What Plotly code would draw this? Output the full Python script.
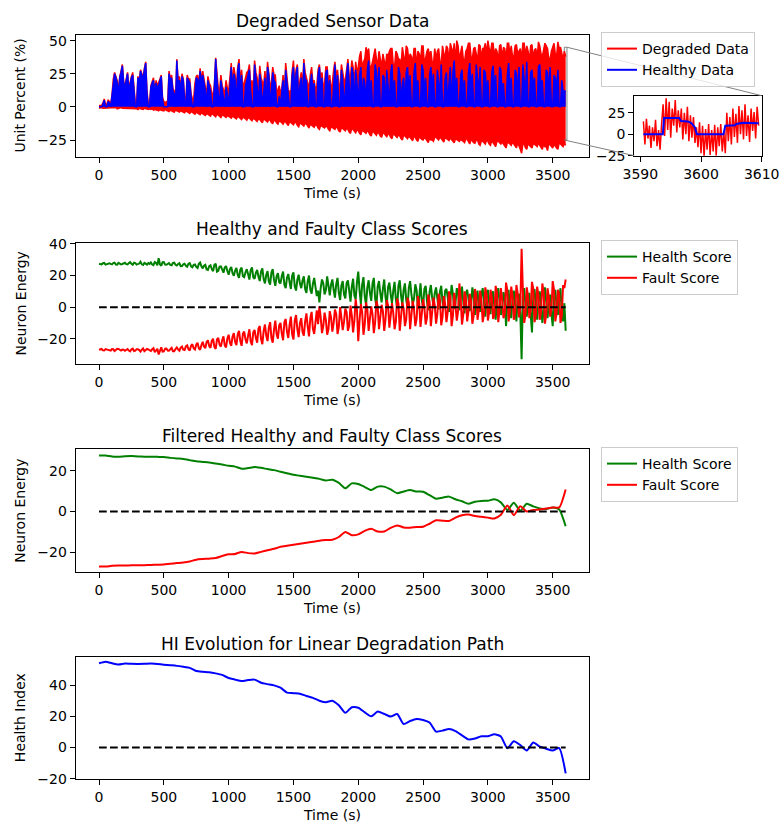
import plotly.graph_objects as go

# ---------------- data ----------------
T20 = list(range(0, 3601, 20))          # sample times (s): 0, 20, ..., 3600
T20B = list(range(10, 3600, 20))        # sample times (s): 10, 30, ..., 3590
T50 = list(range(0, 3601, 50))          # sample times (s) for filtered series

# Chart 1: degraded data (band: lower / upper envelope) and healthy data
DEG_HI = [
    1, 1, 6, 2, 4, 9, 26, 20, 23, 32,
    16, 26, 20, 26, 3, 23, 28, 22, 34, 3,
    16, 22, 20, 18, 24, 4, 4, 27, 24, 12,
    36, 23, 25, 7, 24, 21, 6, 18, 24, 29,
    27, 14, 23, 16, 9, 37, 14, 24, 12, 20,
    12, 33, 30, 14, 36, 28, 18, 26, 32, 20,
    35, 22, 31, 18, 27, 34, 16, 30, 24, 14,
    10, 24, 33, 12, 10, 35, 28, 10, 26, 36,
    22, 14, 30, 20, 16, 32, 26, 18, 30, 24,
    18, 34, 28, 16, 26, 20, 36, 22, 30, 34,
    30, 42, 34, 45, 44, 30, 40, 36, 42, 30,
    36, 40, 42, 44, 30, 40, 36, 45, 32, 44,
    40, 32, 44, 42, 34, 46, 38, 44, 42, 32,
    36, 44, 32, 40, 46, 34, 44, 48, 50, 36,
    46, 34, 44, 48, 36, 45, 34, 46, 44, 48,
    50, 40, 48, 44, 34, 47, 45, 36, 48, 46,
    38, 47, 42, 36, 48, 46, 34, 47, 43, 36,
    46, 38, 48, 44, 36, 46, 40, 49, 45, 36,
    38,
]
DEG_HI_B = [
    1, 3, 2, 5, 2, 21, 23, 12, 27, 19,
    21, 14, 23, 10, 2, 19, 25, 29, 12, 2,
    19, 12, 16, 21, 7, 3, 4, 21, 14, 4,
    20, 14, 21, 5, 21, 10, 6, 23, 17, 20,
    20, 9, 18, 10, 17, 22, 12, 16, 10, 14,
    22, 16, 24, 30, 18, 14, 20, 27, 16, 12,
    26, 12, 22, 16, 12, 27, 18, 24, 10, 16,
    14, 10, 22, 12, 27, 16, 32, 20, 14, 26,
    16, 24, 18, 12, 28, 20, 14, 30, 18, 12,
    28, 22, 16, 32, 20, 28, 24, 35, 18, 26,
    38, 28, 36, 40, 30, 34, 44, 32, 36, 40,
    30, 38, 44, 32, 42, 36, 30, 40, 46, 34,
    38, 44, 30, 40, 46, 32, 42, 38, 34, 44,
    42, 34, 46, 38, 44, 48, 40, 34, 46, 42,
    36, 42, 48, 38, 44, 40, 47, 36, 44, 40,
    44, 48, 38, 42, 46, 36, 44, 48, 40, 38,
    46, 40, 44, 48, 38, 42, 46, 36, 44, 49,
    40, 44, 46, 36, 42, 48, 38, 44, 40, 42,
]
DEG_LO = [
    -1, -0.5, -1, -0.5, -1, -1, -1, -1.5, -1, -1,
    -1, -1.5, -1, -1.5, -1, -2, -1.5, -2, -1.5, -2,
    -2, -2.5, -2, -3, -2.5, -3, -2.5, -3.5, -3, -4,
    -3, -4, -3.5, -4.5, -3.5, -5, -4, -5.5, -4.5, -6,
    -5, -6.5, -5.5, -7, -6, -7.5, -6, -8, -6.5, -8,
    -7, -8.5, -7.5, -9, -8, -9.5, -8, -10, -8.5, -10.5,
    -9, -11, -9.5, -12, -10, -11.5, -10, -12.5, -10.5, -13,
    -11, -13, -11.5, -14, -12, -13.5, -12, -15, -13, -14.5,
    -13, -16, -14, -15.5, -14, -17, -14.5, -16, -15, -18,
    -15.5, -17, -16, -19, -16.5, -18, -17, -20, -17, -19.5,
    -18, -21, -18.5, -20, -19, -22, -19, -21.5, -20, -23,
    -20, -22.5, -21, -24, -21, -23, -22, -25, -22, -24,
    -23, -25.5, -23, -26, -24, -25, -24, -27, -25, -26,
    -23, -25, -24, -26.5, -24, -25.5, -25, -27, -24.5, -26,
    -25, -27, -24.5, -28, -26, -27.5, -25, -29, -26, -28,
    -26, -29, -27, -30, -26, -28, -28, -31, -27, -29,
    -28, -31, -29, -35, -28, -32, -29, -31, -28, -30,
    -29, -32, -30, -33, -29, -31, -30, -32, -28, -30,
    -29,
]
DEG_LO_B = [
    -0.5, -1, -0.5, -1, -0.5, -1, -0.5, -1, -0.5, -1,
    -1, -1, -1.5, -1, -1.5, -1, -2, -1, -2, -1.5,
    -1.5, -2, -2.5, -2, -2.5, -2, -3, -2.5, -3.5, -2.5,
    -3.5, -3, -4, -3, -4.5, -3.5, -5, -4, -5, -4.5,
    -5.5, -5, -6, -5, -7, -5.5, -7, -6, -7.5, -6.5,
    -8, -7, -8.5, -7, -9, -7.5, -9, -8, -10, -8.5,
    -10, -9, -11, -9, -11, -9.5, -12, -10, -12, -10.5,
    -12, -11, -13, -11, -13, -11.5, -14, -12, -14, -12.5,
    -14.5, -13, -15, -13.5, -16, -14, -15.5, -14.5, -17, -15,
    -16, -15, -18, -15.5, -17, -16, -19, -16, -18.5, -17,
    -20, -17.5, -19, -18, -21, -18, -20.5, -19, -22, -19.5,
    -21.5, -20, -23, -20, -22, -21, -24, -21, -23, -22,
    -24, -22, -25, -22.5, -24.5, -23, -26, -23.5, -25, -23,
    -24, -22.5, -25.5, -23, -25, -23.5, -26, -24, -25, -24.5,
    -26, -24, -27, -24.5, -27, -25, -28, -25.5, -27, -25,
    -28, -25.5, -29, -26, -27, -26.5, -30, -27, -28, -26.5,
    -30, -27, -32, -28, -31, -27, -30, -27.5, -29, -27,
    -31, -28, -30, -27.5, -30, -28, -31, -27, -29, -27.5,
]
HEALTHY = [
    0, 0, 5, 0, 3, 8, 25, 18, 22, 31,
    15, 25, 18, 24, 0, 22, 27, 20, 33, 0,
    15, 20, 18, 16, 23, 0, 0, 25, 22, 10,
    35, 20, 23, 5, 22, 18, 0, 15, 21, 27,
    24, 12, 20, 12, 0, 36, 10, 20, 5, 15,
    0, 30, 25, 0, 33, 24, 0, 20, 28, 0,
    32, 15, 25, 0, 22, 30, 0, 26, 18, 0,
    0, 20, 28, 8, 0, 30, 25, 0, 22, 33,
    20, 0, 25, 18, 0, 30, 22, 0, 28, 20,
    0, 32, 24, 0, 20, 15, 33, 0, 25, 28,
    0, 30, 22, 0, 35, 20, 0, 26, 30, 0,
    22, 28, 0, 32, 20, 0, 25, 18, 0, 30,
    24, 0, 33, 20, 0, 28, 22, 0, 30, 25,
    0, 20, 32, 0, 26, 18, 0, 35, 22, 0,
    28, 20, 0, 33, 25, 0, 22, 30, 0, 26,
    20, 0, 31, 24, 0, 28, 18, 0, 33, 22,
    0, 25, 30, 0, 20, 34, 0, 28, 22, 0,
    32, 20, 0, 26, 30, 0, 22, 28, 0, 12,
    12,
]
HEALTHY_B = [
    0, 2, 0, 4, 0, 20, 22, 10, 26, 18,
    20, 12, 22, 8, 0, 18, 24, 28, 10, 0,
    18, 10, 14, 20, 5, 0, 0, 20, 12, 0,
    18, 12, 20, 0, 20, 8, 0, 22, 15, 18,
    18, 0, 16, 0, 15, 20, 0, 14, 0, 10,
    18, 12, 20, 28, 10, 0, 16, 24, 12, 0,
    22, 0, 18, 10, 0, 24, 12, 20, 0, 8,
    12, 0, 18, 0, 24, 10, 30, 16, 0, 20,
    0, 18, 10, 0, 24, 12, 0, 26, 8, 0,
    22, 10, 0, 28, 0, 24, 14, 30, 0, 18,
    24, 0, 18, 28, 10, 0, 32, 12, 0, 24,
    0, 16, 26, 10, 0, 30, 0, 22, 26, 12,
    0, 26, 12, 0, 32, 10, 0, 24, 14, 0,
    28, 10, 0, 22, 0, 30, 26, 12, 0, 24,
    10, 0, 26, 14, 0, 32, 10, 0, 28, 12,
    0, 26, 14, 0, 30, 10, 0, 24, 12, 0,
    28, 10, 0, 32, 12, 0, 26, 14, 0, 30,
    14, 0, 28, 10, 0, 24, 14, 0, 20, 12,
]

# Inset (zoom of the last seconds)
INSET_T = [3590.5 + 0.25 * k for k in range(77)]
INSET_DEG = [
    15, -12, 18, -5, 10, -16, 8, -8, 17, -14, 5, -18, 12,
    35, -2, 42, 5, 38, -4, 30, 10, 40, 2, 28, 8,
    30, -6, 25, 0, 32, -8, 22, -4, 20, -10, 8, -15,
    14, -22, 10, -26, 6, -18, 12, -24, 5, -20, 11, -25, 8, -14, 12, -20, 3, -22,
    25, -8, 20, -12, 30, -3, 24, -10, 33, 0, 28, -6, 35, -2, 22, -9, 30, 4, 26, -5, 32, 10,
]
INSET_HT = [3590.5, 3593.7, 3593.9, 3596.4, 3596.7, 3597.8, 3598.4, 3599.0, 3599.3,
            3603.7, 3604.0, 3605.6, 3605.8, 3606.6, 3607.0, 3609.5]
INSET_HV = [0, 0, 19, 19, 15.5, 15, 13, 8, 0, 0, 10, 10.5, 12, 13, 13.5, 13]

# Chart 2: raw class scores
HEALTH_RAW = [
    27.5, 27.0, 28.0, 27.2, 27.8, 27.1, 28.2, 26.9, 27.6, 27.3,
    28.1, 27.0, 28.5, 26.8, 27.9, 27.2, 28.8, 26.7, 27.5, 27.9,
    28.3, 26.6, 28.0, 31.0, 26.2, 28.5, 26.8, 27.9, 26.5, 28.2,
    26.4, 27.8, 26.0, 27.5, 25.6, 27.9, 25.2, 27.0, 24.8, 28.2,
    24.5, 26.8, 23.5, 26.5, 22.8, 27.5, 23.0, 25.8, 21.8, 26.0,
    20.5, 25.5, 19.8, 24.8, 18.5, 25.0, 19.0, 24.0, 17.5, 25.2,
    18.0, 23.5, 16.5, 24.5, 15.0, 22.8, 14.2, 24.0, 13.5, 21.5,
    15.0, 22.5, 12.0, 21.0, 11.5, 22.0, 10.5, 20.5, 12.0, 19.5,
    9.0, 20.0, 8.5, 18.5, 7.0, 3.0, 17.5, 8.0, 19.5, 7.5,
    17.5, 6.0, 18.5, 4.5, 16.5, 5.5, 17.0, 3.5, 18.0, 5.0,
    22.5, 2.0, 19.0, 1.5, 17.0, 4.0, 18.5, 0.5, 16.5, 3.0,
    17.5, 1.0, 15.5, 2.5, 16.0, -0.5, 17.0, 1.5, 15.0, 0.0,
    16.5, 2.0, 14.5, -1.0, 15.0, 0.5, 13.5, -2.0, 14.0, 1.0,
    12.5, -1.5, 13.5, 0.0, 11.5, -3.0, 14.0, -1.0, 12.0, -2.0,
    13.0, -4.0, 11.0, -2.5, 12.5, -5.0, 10.5, -3.0, 12.0, -6.0,
    11.0, -4.5, 10.0, -8.0, 12.0, -5.0, 9.5, -12.0, 11.0, -7.0,
    10.5, -9.0, 8.5, -33.0, 12.0, -6.0, 9.0, -16.0, 11.5, -8.0,
    10.0, -10.0, 12.5, -7.0, 8.0, -12.0, 11.0, -5.0, 12.0, -9.0,
    -15.0,
]
HEALTH_RAW_B = [
    27.3, 27.8, 26.9, 27.6, 27.4, 27.9, 27.0, 28.0, 27.1, 27.7,
    27.2, 27.9, 27.4, 28.2, 26.9, 27.6, 27.1, 28.0, 26.9, 27.4,
    27.0, 28.6, 26.5, 27.2, 28.4, 26.9, 27.6, 26.7, 28.0, 26.8,
    27.3, 25.9, 27.1, 26.2, 27.5, 25.8, 26.8, 25.5, 27.4, 25.9,
    26.2, 23.8, 25.9, 24.1, 26.8, 22.5, 25.6, 23.9, 25.1, 22.9,
    24.0, 21.5, 23.2, 20.4, 23.8, 19.6, 22.1, 20.8, 23.4, 18.9,
    21.8, 19.2, 22.5, 17.8, 20.4, 16.3, 22.0, 17.1, 19.6, 15.8,
    19.8, 14.2, 18.5, 15.8, 20.1, 13.2, 17.4, 14.9, 16.8, 11.5,
    16.5, 11.2, 14.8, 12.6, 10.4, 12.0, 15.2, 10.8, 13.5, 14.2,
    11.0, 14.6, 9.2, 13.8, 8.1, 15.2, 10.5, 12.8, 7.4, 16.0,
    10.5, 14.2, 6.8, 12.5, 9.0, 15.0, 5.6, 13.2, 8.8, 11.6,
    6.5, 12.8, 8.2, 10.4, 5.0, 13.6, 7.2, 11.0, 4.5, 12.2,
    8.0, 5.2, 10.8, 6.4, 4.2, 11.5, 3.8, 9.6, 6.0, 8.8,
    5.5, 9.8, 3.2, 10.5, 6.2, 4.0, 8.6, 2.5, 9.2, 5.0,
    3.5, 8.8, 5.2, 1.0, 7.4, 4.6, 0.5, 8.0, 2.8, 6.2,
    2.5, 6.8, 0.2, 5.5, 3.8, -1.5, 6.2, 2.0, -2.5, 4.8,
    1.8, 5.6, -3.2, 7.0, 0.5, 3.8, -4.5, 6.5, 1.2, 3.0,
    2.2, -2.8, 5.0, 1.5, -4.0, 6.0, 0.8, 4.2, -3.0, 2.5,
]
FAULT_RAW = [
    -27.0, -26.5, -27.5, -26.8, -27.3, -26.6, -27.8, -26.4, -27.2, -26.9,
    -27.6, -26.5, -28.0, -26.3, -27.5, -26.6, -28.2, -26.2, -27.4, -26.8,
    -27.8, -26.0, -27.5, -30.0, -25.5, -28.0, -26.2, -27.6, -25.8, -27.9,
    -25.5, -27.6, -25.0, -27.2, -24.2, -27.5, -23.5, -26.8, -22.5, -27.0,
    -22.0, -26.0, -21.0, -25.8, -20.0, -26.5, -19.5, -25.0, -18.5, -25.5,
    -17.5, -24.5, -16.5, -24.0, -15.0, -24.5, -15.5, -23.0, -14.0, -24.0,
    -14.5, -22.5, -12.0, -23.5, -11.0, -21.5, -9.5, -22.5, -8.5, -20.0,
    -10.0, -21.0, -7.5, -19.5, -6.0, -20.5, -5.0, -19.0, -7.0, -18.0,
    -4.0, -18.5, -3.0, -17.0, -2.0, 0.5, -16.5, -3.5, -17.5, -2.5,
    -15.5, -1.5, -17.0, 0.0, -14.5, -1.0, -15.0, 1.0, -16.0, 5.0,
    -21.5, 2.0, -17.5, 3.0, -15.0, 0.5, -16.5, 4.0, -14.0, 1.5,
    -15.0, 4.5, -13.0, 2.5, -14.0, 5.5, -15.0, 3.0, -12.0, 6.0,
    -14.0, 4.0, -12.0, 7.0, -12.5, 5.0, -11.0, 8.0, -12.0, 6.0,
    -10.5, 8.5, -11.5, 7.0, -9.5, 10.0, -12.0, 9.0, -8.5, 15.0,
    -11.0, 10.0, -9.0, 8.5, -10.5, 11.5, -8.0, 10.5, -9.5, 12.5,
    -8.5, 11.0, -7.5, 13.5, -9.5, 12.0, -7.0, 15.5, -9.0, 13.0,
    -8.0, 14.0, -6.5, 37.0, -10.0, 12.5, -7.0, 16.0, -9.5, 13.0,
    -8.0, 15.0, -10.5, 12.0, -6.0, 16.5, -9.0, 11.0, -10.0, 14.0,
    17.5,
]
FAULT_RAW_B = [
    -26.8, -27.4, -26.6, -27.1, -27.6, -26.7, -27.2, -26.5, -27.5, -27.0,
    -26.9, -27.5, -26.7, -27.8, -26.6, -27.2, -27.0, -27.9, -26.5, -27.3,
    -26.7, -28.5, -26.4, -27.0, -28.2, -26.3, -27.5, -26.6, -27.9, -26.5,
    -26.8, -25.6, -27.0, -24.9, -26.6, -24.5, -26.2, -23.8, -26.0, -24.0,
    -25.0, -22.0, -24.6, -21.2, -25.2, -20.5, -23.8, -21.0, -24.2, -19.8,
    -22.5, -18.6, -22.0, -17.2, -21.5, -16.8, -20.5, -18.0, -21.8, -16.0,
    -19.5, -13.5, -20.2, -15.0, -18.0, -12.8, -19.6, -14.2, -17.0, -11.5,
    -16.8, -9.5, -15.5, -11.2, -17.2, -8.6, -14.0, -10.2, -15.8, -9.0,
    -12.5, -7.0, -13.8, -9.5, -10.8, -6.2, -12.0, -8.0, -14.0, -6.5,
    -10.0, -4.5, -12.5, -6.8, -9.2, -3.0, -11.8, -5.2, -8.4, -2.0,
    -8.5, -3.2, -11.0, -1.5, -7.2, -4.8, -9.6, 0.5, -6.4, -2.6,
    -8.0, 1.0, -5.5, -3.8, -9.2, 2.2, -6.0, -1.0, -7.8, 3.0,
    -5.0, -1.5, -7.5, 2.8, -4.2, -0.5, -6.8, 3.5, -3.0, 1.2,
    -4.5, 4.8, -6.2, 2.0, -3.2, 6.0, -5.5, 1.0, -2.5, 5.5,
    -4.8, 6.2, -2.5, 3.8, -5.6, 7.5, -1.8, 4.2, -4.0, 8.0,
    -3.0, 6.5, -5.2, 9.0, -1.5, 5.0, -4.2, 10.5, -2.0, 7.2,
    -3.5, 8.5, -1.0, 10.0, -4.8, 6.8, -2.2, 11.5, -5.0, 7.5,
    -2.5, 9.5, -4.6, 6.5, -1.2, 11.0, -3.8, 8.0, -5.5, 12.0,
]

# Chart 3: filtered class scores
HEALTH_FILT = [
    27.4, 27.5, 27.0, 26.9, 27.1, 27.2, 27.0, 26.9, 26.9, 26.8,
    26.7, 26.3, 26.0, 25.8, 25.2, 24.6, 24.3, 24.0, 23.5, 23.0,
    22.4, 22.0, 21.0, 21.3, 21.8, 21.4, 20.8, 20.3, 19.5, 18.8,
    18.0, 17.5, 17.0, 16.5, 16.0, 15.2, 15.6, 14.0, 11.4, 13.8,
    13.5, 12.0, 10.5, 12.2, 12.2, 10.8, 9.0, 9.8, 10.5, 9.8,
    9.7, 8.0, 6.3, 6.8, 7.3, 6.0, 5.0, 3.8, 4.8, 5.2,
    5.3, 6.0, 4.5, 0.8, 4.3, 0.4, 3.8, 2.5, 1.5, 1.2,
    2.0, 1.0, -7.2,
]
FAULT_FILT = [
    -26.9, -27.0, -26.6, -26.5, -26.5, -26.4, -26.4, -26.3, -26.2, -26.1,
    -26.0, -25.6, -25.3, -25.0, -24.5, -23.6, -23.3, -23.1, -22.8, -21.8,
    -21.0, -20.8, -19.8, -20.4, -20.6, -19.8, -19.0, -18.3, -17.3, -16.8,
    -16.3, -15.8, -15.3, -14.8, -14.3, -14.0, -13.8, -12.5, -10.0, -11.6,
    -11.2, -9.5, -8.5, -9.8, -9.8, -8.0, -6.8, -7.8, -7.9, -7.6,
    -7.5, -6.0, -4.3, -4.5, -4.6, -3.0, -1.8, -1.5, -2.2, -2.6,
    -3.0, -3.4, -1.6, 3.0, -1.8, 2.6, 0.0, 0.8, 1.0, 1.5,
    2.0, 2.0, 10.8,
]

# Chart 4: health index
HEALTH_INDEX = [
    54.0, 55.0, 54.0, 53.2, 53.8, 53.6, 53.5, 53.6, 53.8, 53.5,
    53.1, 52.7, 52.3, 51.7, 51.0, 49.0, 48.5, 48.2, 47.5, 46.5,
    44.5, 43.5, 42.6, 43.2, 43.5, 41.5, 40.6, 39.8, 38.3, 35.2,
    34.8, 34.5, 33.0, 31.8, 30.0, 29.0, 30.0, 27.0, 22.2, 25.8,
    25.5, 22.5, 20.0, 23.0, 21.5, 19.8, 21.5, 15.0, 17.0, 18.3,
    17.6, 16.0, 10.2, 10.8, 11.8, 10.5, 7.8, 5.2, 5.8, 7.2,
    7.2, 8.5, 7.0, -0.5, 4.0, 1.5, -2.0, 3.2, 0.5, -0.8,
    -2.0, -0.4, -16.6,
]

ZERO_T = [0, 3600]
ZERO_V = [0, 0]

X_TICKS = [0, 500, 1000, 1500, 2000, 2500, 3000, 3500]


def merge(a, b):
    """Interleave two sets of samples taken on alternating time stamps."""
    out = []
    for i in range(len(b)):
        out += [a[i], b[i]]
    out += a[len(b):]
    return out


T_ALL = merge(T20, T20B)

# ---------------- layout helpers ----------------
W, H = 781, 825
FONT = "DejaVu Sans"
RED, BLUE, GREEN = "#ff0000", "#0000ff", "#008000"
LW = 2.0


def fx(p):
    return p / W


def fy(p):
    return 1 - p / H


MAIN_X = [fx(75.7), fx(589.0)]
ROWS = [(34.5, 156.7), (242.7, 364.3), (449.3, 572.3), (657.3, 779.0)]
INSET_X = [fx(634.3), fx(761.7)]
INSET_Y = [fy(155.7), fy(95.7)]

X_RANGE = [-180, 3780]
Y_RANGES = [[-37.6, 54.6], [-36.2, 40.8], [-29.8, 30.5], [-20.2, 57.8]]
Y_TICKS = [[-25, 0, 25, 50], [-20, 0, 20, 40], [-20, 0, 20], [-20, 0, 20, 40]]
INSET_XR = [3589, 3610]
INSET_YR = [-25, 45]


def axis(domain, rng, ticks, anchor):
    return dict(domain=domain, range=rng, tickvals=ticks, anchor=anchor,
                showgrid=False, zeroline=False, showline=True, mirror=True,
                linecolor="black", linewidth=1, ticks="outside", ticklen=5,
                tickwidth=1, tickcolor="black", automargin=False,
                tickfont=dict(family=FONT, size=14, color="black"),
                fixedrange=True)


fig = go.Figure()

# ---- chart 1 ----
fig.add_trace(go.Scatter(x=T_ALL, y=merge(DEG_LO, DEG_LO_B), mode="lines",
                         line=dict(color=RED, width=1.5), showlegend=False, xaxis="x", yaxis="y"))
fig.add_trace(go.Scatter(x=T_ALL, y=merge(DEG_HI, DEG_HI_B), mode="lines",
                         line=dict(color=RED, width=1.5), fill="tonexty", fillcolor=RED,
                         showlegend=False, xaxis="x", yaxis="y"))
fig.add_trace(go.Scatter(x=T_ALL, y=merge(HEALTHY, HEALTHY_B), mode="lines",
                         line=dict(color=BLUE, width=1.5), fill="tozeroy", fillcolor=BLUE,
                         showlegend=False, xaxis="x", yaxis="y"))
fig.add_trace(go.Scatter(x=[None], y=[None], mode="lines", line=dict(color=RED, width=LW),
                         name="Degraded Data", legend="legend", xaxis="x", yaxis="y"))
fig.add_trace(go.Scatter(x=[None], y=[None], mode="lines", line=dict(color=BLUE, width=LW),
                         name="Healthy Data", legend="legend", xaxis="x", yaxis="y"))

# ---- inset ----
fig.add_trace(go.Scatter(x=INSET_T, y=INSET_DEG, mode="lines", line=dict(color=RED, width=1.5),
                         showlegend=False, xaxis="x5", yaxis="y5"))
fig.add_trace(go.Scatter(x=INSET_HT, y=INSET_HV, mode="lines", line=dict(color=BLUE, width=LW),
                         showlegend=False, xaxis="x5", yaxis="y5"))

# ---- chart 2 ----
fig.add_trace(go.Scatter(x=T_ALL, y=merge(HEALTH_RAW, HEALTH_RAW_B), mode="lines",
                         line=dict(color=GREEN, width=LW),
                         name="Health Score", legend="legend2", xaxis="x2", yaxis="y2"))
fig.add_trace(go.Scatter(x=T_ALL, y=merge(FAULT_RAW, FAULT_RAW_B), mode="lines",
                         line=dict(color=RED, width=LW),
                         name="Fault Score", legend="legend2", xaxis="x2", yaxis="y2"))
fig.add_trace(go.Scatter(x=ZERO_T, y=ZERO_V, mode="lines",
                         line=dict(color="black", width=LW, dash="7.7px,3.3px"),
                         showlegend=False, xaxis="x2", yaxis="y2"))

# ---- chart 3 ----
fig.add_trace(go.Scatter(x=T50, y=HEALTH_FILT, mode="lines",
                         line=dict(color=GREEN, width=LW, shape="spline", smoothing=0.6),
                         name="Health Score", legend="legend3", xaxis="x3", yaxis="y3"))
fig.add_trace(go.Scatter(x=T50, y=FAULT_FILT, mode="lines",
                         line=dict(color=RED, width=LW, shape="spline", smoothing=0.6),
                         name="Fault Score", legend="legend3", xaxis="x3", yaxis="y3"))
fig.add_trace(go.Scatter(x=ZERO_T, y=ZERO_V, mode="lines",
                         line=dict(color="black", width=LW, dash="7.7px,3.3px"),
                         showlegend=False, xaxis="x3", yaxis="y3"))

# ---- chart 4 ----
fig.add_trace(go.Scatter(x=T50, y=HEALTH_INDEX, mode="lines",
                         line=dict(color=BLUE, width=LW, shape="spline", smoothing=0.6),
                         showlegend=False, xaxis="x4", yaxis="y4"))
fig.add_trace(go.Scatter(x=ZERO_T, y=ZERO_V, mode="lines",
                         line=dict(color="black", width=LW, dash="7.7px,3.3px"),
                         showlegend=False, xaxis="x4", yaxis="y4"))

layout = dict(width=W, height=H, margin=dict(l=0, r=0, t=0, b=0, pad=0, autoexpand=False),
              autosize=False, paper_bgcolor="white", plot_bgcolor="white",
              font=dict(family=FONT, size=14, color="black"))

for i, (top, bot) in enumerate(ROWS):
    n = "" if i == 0 else str(i + 1)
    layout["xaxis" + n] = axis(MAIN_X, X_RANGE, X_TICKS, "y" + n)
    layout["yaxis" + n] = axis([fy(bot), fy(top)], Y_RANGES[i], Y_TICKS[i], "x" + n)
layout["xaxis5"] = axis(INSET_X, INSET_XR, [3590, 3600, 3610], "y5")
layout["yaxis5"] = axis(INSET_Y, INSET_YR, [-25, 0, 25], "x5")

leg_common = dict(bgcolor="rgba(255,255,255,0.8)", bordercolor="#cccccc", borderwidth=1,
                  font=dict(family=FONT, size=14, color="black"),
                  xanchor="left", yanchor="top", tracegroupgap=0, traceorder="normal")
layout["legend"] = dict(x=fx(601), y=fy(32), **leg_common)
layout["legend2"] = dict(x=fx(601), y=fy(240), **leg_common)
layout["legend3"] = dict(x=fx(601), y=fy(447), **leg_common)

# titles and axis labels
TITLES = ["Degraded Sensor Data", "Healthy and Faulty Class Scores",
          "Filtered Healthy and Faulty Class Scores", "HI Evolution for Linear Degradation Path"]
YLABELS = ["Unit Percent (%)", "Neuron Energy", "Neuron Energy", "Health Index"]
ann = []
xc = (MAIN_X[0] + MAIN_X[1]) / 2
for i, (top, bot) in enumerate(ROWS):
    ann.append(dict(text=TITLES[i], x=xc, y=fy(top - 13.5), xref="paper", yref="paper",
                    xanchor="center", yanchor="middle", showarrow=False,
                    font=dict(family=FONT, size=17, color="black")))
    ann.append(dict(text="Time (s)", x=xc, y=fy(bot + 36), xref="paper", yref="paper",
                    xanchor="center", yanchor="middle", showarrow=False,
                    font=dict(family=FONT, size=14, color="black")))
    ann.append(dict(text=YLABELS[i], x=fx(20), y=fy((top + bot) / 2), xref="paper", yref="paper",
                    xanchor="center", yanchor="middle", showarrow=False, textangle=-90,
                    font=dict(family=FONT, size=14, color="black")))
layout["annotations"] = ann


# inset marker: rectangle on main axes + connectors to the inset
def to_px(v, rng, dom):
    return dom[0] + (v - rng[0]) / (rng[1] - rng[0]) * (dom[1] - dom[0])


y1dom = [fy(ROWS[0][1]), fy(ROWS[0][0])]
shapes = [dict(type="rect", xref="x", yref="y", x0=INSET_XR[0], x1=INSET_XR[1],
               y0=INSET_YR[0], y1=INSET_YR[1], line=dict(color="#808080", width=1), layer="below")]
shapes.append(dict(type="line", xref="paper", yref="paper",
                   x0=to_px(INSET_XR[1], X_RANGE, MAIN_X), y0=to_px(INSET_YR[1], Y_RANGES[0], y1dom),
                   x1=INSET_X[1], y1=INSET_Y[1], line=dict(color="#808080", width=1)))
shapes.append(dict(type="line", xref="paper", yref="paper",
                   x0=to_px(INSET_XR[0], X_RANGE, MAIN_X), y0=to_px(INSET_YR[0], Y_RANGES[0], y1dom),
                   x1=INSET_X[0], y1=INSET_Y[0], line=dict(color="#808080", width=1)))
layout["shapes"] = shapes

fig.update_layout(**layout)
fig.write_html("out.html")
